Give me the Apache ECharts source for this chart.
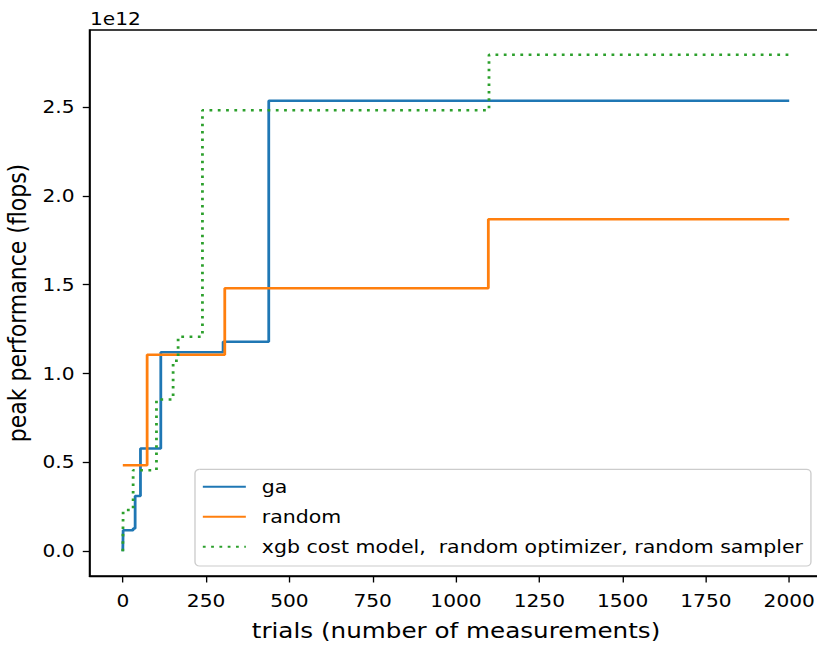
<!DOCTYPE html>
<html>
<head>
<meta charset="utf-8">
<script src="https://cdn.jsdelivr.net/npm/echarts@6/dist/echarts.min.js"></script>
<style>
html,body{margin:0;padding:0;background:#fff;overflow:hidden;}
#wrap{width:817px;height:645px;overflow:hidden;}
#chart{width:729.5px;height:645px;transform:scaleX(1.12);transform-origin:0 0;}
</style>
</head>
<body>
<div id="wrap"><div id="chart"></div></div>
<script>
// values in units of 1e12 flops
const gaTrials = [0, 1, 31, 37, 53, 114, 301, 438, 2000];
const gaValues = [0, 0.118, 0.128, 0.310, 0.578, 1.119, 1.179, 2.534, 2.534];
const randomTrials = [0, 73, 306, 1097, 2000];
const randomValues = [0.484, 1.105, 1.479, 1.868, 1.868];
const xgbTrials = [0, 1, 31, 101, 151, 166, 239, 1099, 2000];
const xgbValues = [0, 0.231, 0.456, 0.854, 1.072, 1.207, 2.481, 2.793, 2.793];
const xTicks = [0, 250, 500, 750, 1000, 1250, 1500, 1750, 2000];
const yTicks = [0, 0.5, 1.0, 1.5, 2.0, 2.5];
const seriesNames = ['ga', 'random', 'xgb cost model,  random optimizer, random sampler'];

const FONT = 'DejaVu Sans';
function pts(xs, ys) { return xs.map((x, i) => [x, ys[i]]); }

const chart = echarts.init(document.getElementById('chart'), null, {renderer: 'svg'});
chart.setOption({
  animation: false,
  backgroundColor: '#fff',
  grid: {left: 79.9, top: 30, width: 654.5, height: 546, show: true, borderColor: '#000', borderWidth: 1.3, containLabel: false, outerBoundsMode: 'none'},
  xAxis: {
    type: 'value', min: -100, max: 2100,
    name: 'trials (number of measurements)', nameLocation: 'middle', nameGap: 43,
    nameTextStyle: {fontFamily: FONT, fontSize: 22, color: '#000'},
    axisLine: {show: true, onZero: false, lineStyle: {color: '#000', width: 1.3}},
    axisTick: {show: true, length: 6.5, lineStyle: {color: '#000', width: 1.2}, customValues: xTicks},
    axisLabel: {fontFamily: FONT, fontSize: 18, color: '#000', margin: 16, customValues: xTicks, formatter: v => String(v)},
    splitLine: {show: false}
  },
  yAxis: {
    type: 'value', min: -0.1397, max: 2.9327,
    name: 'peak performance (flops)', nameLocation: 'middle', nameGap: 46,
    nameTextStyle: {fontFamily: FONT, fontSize: 22, color: '#000'},
    axisLine: {show: true, onZero: false, lineStyle: {color: '#000', width: 1.2}},
    axisTick: {show: true, length: 6, lineStyle: {color: '#000', width: 1.3}, customValues: yTicks},
    axisLabel: {fontFamily: FONT, fontSize: 18, color: '#000', margin: 13.4, customValues: yTicks, formatter: v => v.toFixed(1)},
    splitLine: {show: false}
  },
  legend: {
    orient: 'vertical', left: 174.1, top: 469.3,
    backgroundColor: 'rgba(255,255,255,0.8)', borderColor: '#cccccc', borderWidth: 1.2, borderRadius: 4,
    padding: [7.4, 7, 9.3, 6],
    itemWidth: 38.4, itemHeight: 20, itemGap: 10,
    itemStyle: {opacity: 0},
    textStyle: {fontFamily: FONT, fontSize: 18.3, color: '#000', lineHeight: 20, padding: [0, 0, 0, 9.3]},
    data: seriesNames
  },
  graphic: [{type: 'text', left: 80.4, top: 10, style: {text: '1e12', font: '18px "DejaVu Sans"', fill: '#000'}}],
  series: [
    {name: seriesNames[0], type: 'line', step: 'end', symbol: 'none', data: pts(gaTrials, gaValues),
     lineStyle: {color: '#1f77b4', width: 2.5}, itemStyle: {color: '#1f77b4'}},
    {name: seriesNames[1], type: 'line', step: 'end', symbol: 'none', data: pts(randomTrials, randomValues),
     lineStyle: {color: '#ff7f0e', width: 2.5}, itemStyle: {color: '#ff7f0e'}},
    {name: seriesNames[2], type: 'line', step: 'end', symbol: 'none', data: pts(xgbTrials, xgbValues),
     lineStyle: {color: '#2ca02c', width: 2.5, type: [2.5, 4.9]}, itemStyle: {color: '#2ca02c'}}
  ]
});
</script>
</body>
</html>
